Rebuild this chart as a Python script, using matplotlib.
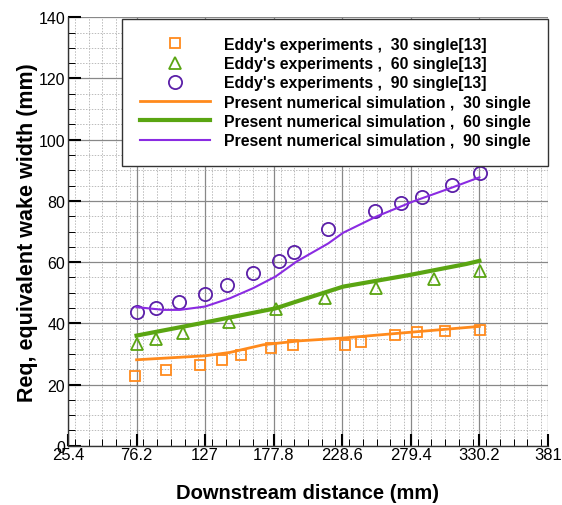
import numpy as np
import matplotlib
matplotlib.use("Agg")
import matplotlib.pyplot as plt
from matplotlib.ticker import MultipleLocator, FixedLocator

plt.rcParams['font.family'] = ['Liberation Sans', 'DejaVu Sans']

# experimental points (Eddy)
x_sq = [75.3, 98.0, 123.2, 139.2, 153.3, 176.0, 192.2, 230.6, 242.7, 267.6, 284.2, 304.5, 330.5]
y_sq = [22.8, 24.6, 26.3, 28.0, 29.8, 32.0, 33.0, 33.0, 34.0, 36.3, 37.1, 37.6, 37.9]
x_tri = [76.2, 90.6, 110.8, 144.9, 179.2, 215.7, 253.5, 296.7, 330.5]
y_tri = [33.3, 35.0, 36.7, 40.6, 44.6, 48.4, 51.7, 54.4, 57.0]
x_circ = [76.2, 90.6, 107.8, 126.9, 143.4, 162.6, 181.6, 192.8, 218.2, 252.7, 271.8, 287.8, 310.0, 330.7]
y_circ = [43.8, 45.1, 47.0, 49.7, 52.5, 56.4, 60.4, 63.3, 70.8, 76.8, 79.2, 81.2, 85.2, 89.0]

# numerical simulation lines
x_l30 = [76.2, 127.0, 145.4, 170.0, 197.3, 229.3, 271.3, 330.2]
y_l30 = [28.1, 29.4, 30.5, 33.0, 34.3, 35.2, 36.8, 39.0]
x_l60 = [76.2, 127.0, 179.2, 197.3, 229.3, 278.5, 320.6, 330.2]
y_l60 = [36.0, 40.3, 44.9, 47.5, 52.0, 55.8, 59.4, 60.4]
x_l90 = [76.2, 96.0, 108.3, 127.0, 145.4, 162.6, 179.2, 194.8, 218.2, 229.3, 253.9, 281.0, 310.2, 330.2]
y_l90 = [45.3, 44.4, 44.4, 45.5, 48.2, 51.5, 55.3, 60.2, 66.1, 69.6, 74.9, 79.8, 84.4, 87.7]

xticks = [25.4, 76.2, 127, 177.8, 228.6, 279.4, 330.2, 381]
xtick_labels = ['25.4', '76.2', '127', '177.8', '228.6', '279.4', '330.2', '381']

orange = '#FF8A1C'
green = '#5AA512'
purple = '#8A2BE2'
purple_dark = '#5B1FA8'

fig = plt.figure(figsize=(5.62, 5.06), dpi=100)
ax = fig.add_axes([0.121, 0.117, 0.854, 0.847])

ax.plot(x_sq, y_sq, 's', ms=7, mfc='none', mec=orange, mew=1.3,
        label="Eddy's experiments ,  30 single[13]")
ax.plot(x_tri, y_tri, '^', ms=8, mfc='none', mec=green, mew=1.3,
        label="Eddy's experiments ,  60 single[13]")
ax.plot(x_circ, y_circ, 'o', ms=9.5, mfc='none', mec=purple_dark, mew=1.3,
        label="Eddy's experiments ,  90 single[13]")
ax.plot(x_l30, y_l30, '-', color=orange, lw=2.0,
        label='Present numerical simulation ,  30 single')
ax.plot(x_l60, y_l60, '-', color=green, lw=3.0,
        label='Present numerical simulation ,  60 single')
ax.plot(x_l90, y_l90, '-', color=purple, lw=1.5,
        label='Present numerical simulation ,  90 single')

ax.set_xlim(25.4, 381)
ax.set_ylim(0, 140)
ax.xaxis.set_major_locator(FixedLocator(xticks))
ax.set_xticklabels(xtick_labels)
ax.xaxis.set_minor_locator(MultipleLocator(10.16))
ax.yaxis.set_major_locator(MultipleLocator(20))
ax.yaxis.set_minor_locator(MultipleLocator(5))

ax.grid(which='major', color='#888888', lw=0.9)
ax.grid(which='minor', color='#bbbbbb', lw=0.7, ls=(0, (1.5, 1.5)))
ax.set_axisbelow(True)

ax.tick_params(which='major', direction='in', length=9, width=1.5, pad=2)
ax.tick_params(which='minor', direction='in', length=5, width=0.7)
ax.tick_params(axis='x', labelsize=12, pad=1)
ax.tick_params(axis='y', labelsize=11.5)

for s in ['top', 'right']:
    ax.spines[s].set_visible(False)
for s in ['left', 'bottom']:
    ax.spines[s].set_color('#333333')
    ax.spines[s].set_linewidth(1.0)

ax.set_xlabel('Downstream distance (mm)', fontsize=14.5, fontweight='bold', labelpad=15)
ax.set_ylabel('Req, equivalent wake width (mm)', fontsize=15.5, fontweight='bold', labelpad=0)

leg = ax.legend(loc='upper right', bbox_to_anchor=(1.0, 0.995),
                prop={'weight': 'bold', 'size': 11.4}, frameon=True, fancybox=False,
                edgecolor='#333333', framealpha=1, borderpad=1.1,
                labelspacing=0.27, handlelength=4.4, handletextpad=0.9,
                borderaxespad=0.0)
leg.get_frame().set_linewidth(1.0)

fig.savefig('out.png', dpi=100)
